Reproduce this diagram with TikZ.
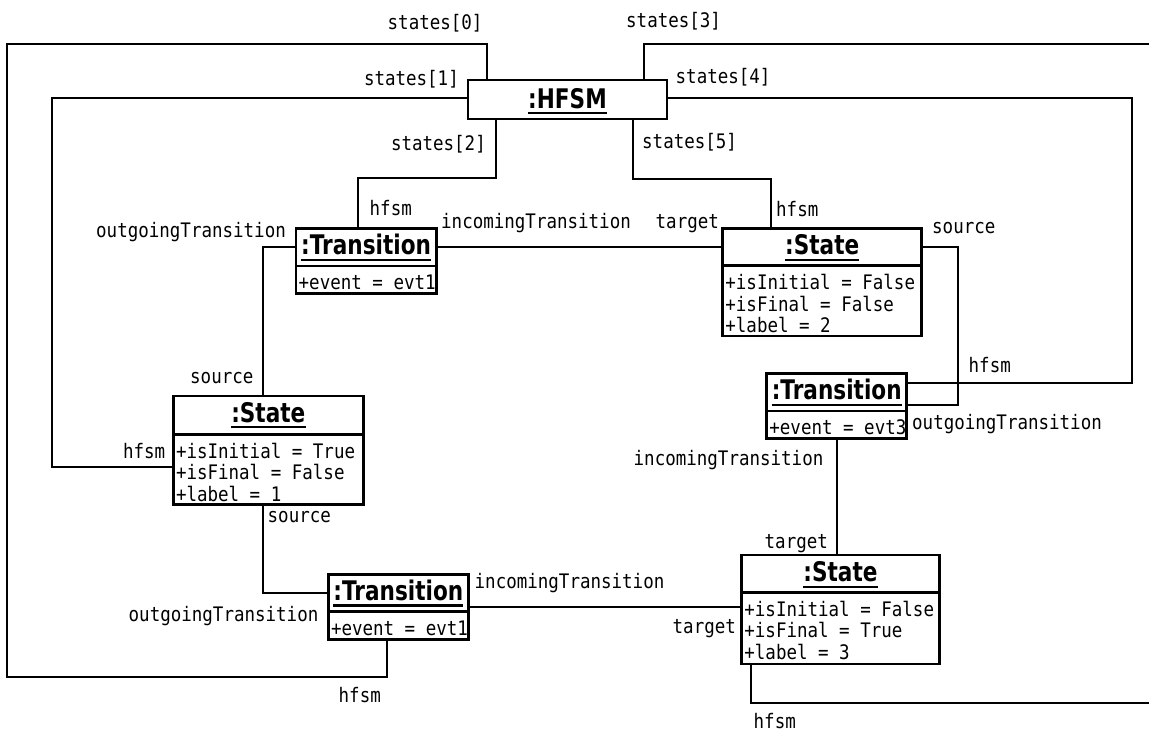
\documentclass[tikz,border=0pt]{standalone}
\usepackage{fontspec}
\newfontfamily\monofont[FakeStretch=0.875]{DejaVu Sans Mono}
\newfontfamily\ttlfont[FakeStretch=0.8]{DejaVu Sans}
\begin{document}
\begin{tikzpicture}[x=1pt,y=-1pt,
  box/.style={draw, line width=2.6pt, inner sep=0pt, outer sep=0pt, anchor=north west},
  sepline/.style={line width=2.6pt},
  conn/.style={line width=2pt},
  ttl/.style={font=\ttlfont\bfseries\fontsize{27}{31}\selectfont, inner sep=0pt, anchor=base},
  attr/.style={font=\monofont\fontsize{20}{24}\selectfont, inner sep=0pt, anchor=base west},
  lbl/.style={font=\monofont\fontsize{20}{24}\selectfont, inner sep=0pt, anchor=base west},
  ul/.style={line width=2.4pt}]
\useasboundingbox (0,0) rectangle (1149,732);
\fill[white] (0,0) rectangle (1149,732);

% ---- objects ----
% HFSM
\node[box, minimum width=199pt, minimum height=39pt] (hfsm) at (468,80) {};
\node[ttl] (hfsmt) at (567.5,108) {:HFSM};
\draw[ul] ([yshift=-5pt]hfsmt.base west) -- ([yshift=-5pt]hfsmt.base east);

% Transition 1 (top left)
\node[box, minimum width=140.3pt, minimum height=65pt] (t1) at (296,228.3) {};
\draw[sepline] (t1.west |- 0,266) -- (t1.east |- 0,266);
\node[ttl] (t1t) at (366.1,254.8) {:Transition};
\draw[ul] ([yshift=-5pt]t1t.base west) -- ([yshift=-5pt]t1t.base east);
\node[attr] (t1a) at (298.5,289.5) {+event = evt1};

% State 2 (top right)
\node[box, minimum width=199pt, minimum height=107.7pt] (s2) at (722.7,228.3) {};
\draw[sepline] (s2.west |- 0,265.7) -- (s2.east |- 0,265.7);
\node[ttl] (s2t) at (822.2,254.8) {:State};
\draw[ul] ([yshift=-5pt]s2t.base west) -- ([yshift=-5pt]s2t.base east);
\node[attr] (s2a) at (725.2,289.5) {+isInitial = False};
\node[attr] (s2b) at (725.2,311) {+isFinal = False};
\node[attr] (s2c) at (725.2,332.5) {+label = 2};

% Transition 2 (middle right)
\node[box, minimum width=140pt, minimum height=65.4pt] (t2) at (766.7,373.3) {};
\draw[sepline] (t2.west |- 0,411) -- (t2.east |- 0,411);
\node[ttl] (t2t) at (836.7,399.8) {:Transition};
\draw[ul] ([yshift=-5pt]t2t.base west) -- ([yshift=-5pt]t2t.base east);
\node[attr] (t2a) at (769.2,434.5) {+event = evt3};

% State 1 (middle left)
\node[box, minimum width=190pt, minimum height=108.3pt] (s1) at (173.3,396) {};
\draw[sepline] (s1.west |- 0,434.3) -- (s1.east |- 0,434.3);
\node[ttl] (s1t) at (268.3,422) {:State};
\draw[ul] ([yshift=-5pt]s1t.base west) -- ([yshift=-5pt]s1t.base east);
\node[attr] (s1a) at (175.8,458) {+isInitial = True};
\node[attr] (s1b) at (175.8,479.5) {+isFinal = False};
\node[attr] (s1c) at (175.8,501) {+label = 1};

% Transition 3 (bottom)
\node[box, minimum width=140pt, minimum height=65pt] (t3) at (328.3,574.3) {};
\draw[sepline] (t3.west |- 0,611.7) -- (t3.east |- 0,611.7);
\node[ttl] (t3t) at (398.3,600.5) {:Transition};
\draw[ul] ([yshift=-5pt]t3t.base west) -- ([yshift=-5pt]t3t.base east);
\node[attr] (t3a) at (330.8,635.5) {+event = evt1};

% State 3 (bottom right)
\node[box, minimum width=197.6pt, minimum height=109pt] (s3) at (741.7,555) {};
\draw[sepline] (s3.west |- 0,592.7) -- (s3.east |- 0,592.7);
\node[ttl] (s3t) at (840.5,581.7) {:State};
\draw[ul] ([yshift=-5pt]s3t.base west) -- ([yshift=-5pt]s3t.base east);
\node[attr] (s3a) at (744.2,616) {+isInitial = False};
\node[attr] (s3b) at (744.2,637.7) {+isFinal = True};
\node[attr] (s3c) at (744.2,659) {+label = 3};

% ---- connectors ----
\draw[conn] (hfsm.north -| 487,0) |- (7.3,44.3) |- (387,676.7) -- (t3.south -| 387,0);
\draw[conn] (hfsm.west |- 0,97.7) -| (52.3,466.7) -- (s1.west |- 0,466.7);
\draw[conn] (hfsm.south -| 496,0) |- (358.3,178) -- (t1.north -| 358.3,0);
\draw[conn] (hfsm.north -| 644,0) |- (1165,44.3) |- (751,703.3) -- (s3.south -| 751,0);
\draw[conn] (hfsm.east |- 0,97.7) -| (1132,383.3) -- (t2.east |- 0,383.3);
\draw[conn] (hfsm.south -| 633,0) |- (771,179) -- (s2.north -| 771,0);
\draw[conn] (t1.east |- 0,246.7) -- (s2.west |- 0,246.7);
\draw[conn] (t1.west |- 0,246.7) -| (s1.north -| 263.3,0);
\draw[conn] (s2.east |- 0,246.7) -| (957.7,405) -- (t2.east |- 0,405);
\draw[conn] (t2.south -| 836.7,0) -- (s3.north -| 836.7,0);
\draw[conn] (s1.south -| 263.3,0) |- (t3.west |- 0,593.3);
\draw[conn] (t3.east |- 0,606.7) -- (s3.west |- 0,606.7);

% ---- role labels ----
\node[lbl] (l0) at (387.5,29) {states[0]};
\node[lbl] (l1) at (363.8,85) {states[1]};
\node[lbl] (l2) at (390.8,150) {states[2]};
\node[lbl] (l3) at (626,27) {states[3]};
\node[lbl] (l4) at (675.5,83) {states[4]};
\node[lbl] (l5) at (642,148) {states[5]};
\node[lbl] (l6) at (369.5,215) {hfsm};
\node[lbl] (l7) at (441,228) {incomingTransition};
\node[lbl] (l8) at (655.5,228) {target};
\node[lbl] (l9) at (776,216) {hfsm};
\node[lbl] (l10) at (932,233) {source};
\node[lbl] (l11) at (96,237) {outgoingTransition};
\node[lbl] (l12) at (190,383) {source};
\node[lbl] (l13) at (122.8,458) {hfsm};
\node[lbl] (l14) at (267.5,522) {source};
\node[lbl] (l15) at (128.5,621) {outgoingTransition};
\node[lbl] (l16) at (474.5,588) {incomingTransition};
\node[lbl] (l17) at (672.5,633) {target};
\node[lbl] (l18) at (338.5,702) {hfsm};
\node[lbl] (l19) at (753.5,728) {hfsm};
\node[lbl] (l20) at (764.5,548) {target};
\node[lbl] (l21) at (633.5,465) {incomingTransition};
\node[lbl] (l22) at (912,429) {outgoingTransition};
\node[lbl] (l23) at (968.5,372) {hfsm};
\end{tikzpicture}
\end{document}
